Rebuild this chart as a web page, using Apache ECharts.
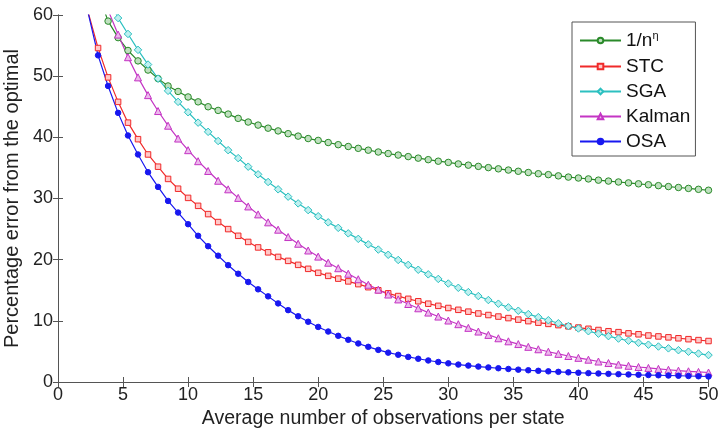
<!DOCTYPE html>
<html>
<head>
<meta charset="utf-8">
<script src="https://cdn.jsdelivr.net/npm/echarts@6/dist/echarts.min.js"></script>
<style>html,body{margin:0;padding:0;background:#fff}#c{width:720px;height:435px}</style>
</head>
<body>
<div id="c"></div>
<script>
// x positions of the sampled points (average observations per state)
var xValues = [1.54, 2.31, 3.08, 3.85, 4.62, 5.38, 6.15, 6.92, 7.69, 8.46, 9.23, 10.0, 10.77, 11.54, 12.31, 13.08,
  13.85, 14.62, 15.38, 16.15, 16.92, 17.69, 18.46, 19.23, 20.0, 20.77, 21.54, 22.31, 23.08, 23.85, 24.62, 25.38,
  26.15, 26.92, 27.69, 28.46, 29.23, 30.0, 30.77, 31.54, 32.31, 33.08, 33.85, 34.62, 35.38, 36.15, 36.92, 37.69,
  38.46, 39.23, 40.0, 40.77, 41.54, 42.31, 43.08, 43.85, 44.62, 45.38, 46.15, 46.92, 47.69, 48.46, 49.23, 50.0];

var invN = [null, null, 63.5, 59.0, 56.3, 54.2, 52.5, 51.0, 49.6, 48.4, 47.5, 46.6, 45.8, 45.0, 44.4, 43.8,
  43.1, 42.5, 42.0, 41.5, 41.05, 40.6, 40.2, 39.8, 39.5, 39.15, 38.8, 38.5, 38.2, 37.9, 37.6, 37.35,
  37.1, 36.85, 36.6, 36.35, 36.1, 35.9, 35.65, 35.45, 35.25, 35.05, 34.85, 34.65, 34.45, 34.25, 34.05, 33.9,
  33.7, 33.5, 33.35, 33.2, 33.0, 32.85, 32.7, 32.55, 32.4, 32.25, 32.1, 31.95, 31.8, 31.65, 31.5, 31.35];

var stc = [null, 60.5, 54.6, 49.8, 45.8, 42.4, 39.7, 37.2, 35.2, 33.2, 31.6, 30.1, 28.8, 27.45, 26.15, 25.0,
  23.9, 22.9, 22.0, 21.2, 20.45, 19.8, 19.15, 18.5, 17.85, 17.35, 16.9, 16.45, 16.0, 15.5, 15.0, 14.5,
  14.05, 13.6, 13.2, 12.8, 12.45, 12.1, 11.8, 11.5, 11.2, 10.95, 10.7, 10.45, 10.2, 9.95, 9.7, 9.5,
  9.3, 9.1, 8.9, 8.7, 8.5, 8.3, 8.15, 7.95, 7.8, 7.6, 7.45, 7.3, 7.15, 7.0, 6.85, 6.7];

var sga = [null, null, null, 63.0, 59.5, 56.9, 54.3, 51.9, 49.6, 47.6, 45.8, 44.1, 42.4, 40.9, 39.4, 37.9,
  36.6, 35.2, 33.95, 32.7, 31.5, 30.3, 29.2, 28.1, 27.1, 26.1, 25.2, 24.3, 23.4, 22.5, 21.65, 20.8,
  19.95, 19.15, 18.35, 17.6, 16.85, 16.1, 15.4, 14.7, 14.05, 13.4, 12.8, 12.2, 11.65, 11.1, 10.6, 10.1,
  9.6, 9.15, 8.75, 8.3, 7.9, 7.5, 7.1, 6.75, 6.4, 6.1, 5.8, 5.5, 5.2, 4.95, 4.65, 4.4];

var kalman = [null, null, 66.0, 60.8, 56.8, 53.1, 49.8, 46.9, 44.3, 41.9, 39.8, 37.9, 36.1, 34.5, 32.9, 31.5,
  30.1, 28.7, 27.4, 26.1, 24.9, 23.7, 22.6, 21.5, 20.5, 19.5, 18.6, 17.7, 16.8, 15.9, 15.1, 14.3,
  13.5, 12.75, 12.05, 11.35, 10.7, 10.05, 9.45, 8.85, 8.25, 7.7, 7.15, 6.65, 6.2, 5.75, 5.35, 4.95,
  4.6, 4.25, 3.95, 3.65, 3.35, 3.1, 2.85, 2.65, 2.45, 2.3, 2.15, 2.0, 1.85, 1.75, 1.65, 1.55];

var osa = [null, 60.4, 53.4, 48.4, 44.0, 40.3, 37.2, 34.3, 31.9, 29.6, 27.7, 25.8, 23.9, 22.2, 20.65, 19.1,
  17.7, 16.35, 15.15, 14.0, 12.85, 11.75, 10.75, 9.85, 9.0, 8.25, 7.55, 6.9, 6.3, 5.75, 5.25, 4.8,
  4.45, 4.1, 3.8, 3.52, 3.27, 3.05, 2.85, 2.68, 2.52, 2.38, 2.25, 2.13, 2.02, 1.92, 1.83, 1.74,
  1.66, 1.58, 1.51, 1.45, 1.39, 1.33, 1.28, 1.23, 1.18, 1.14, 1.1, 1.06, 1.02, 0.98, 0.94, 0.9];

var seriesNames = ['1/nη', 'STC', 'SGA', 'Kalman', 'OSA'];
var xTicks = [0, 5, 10, 15, 20, 25, 30, 35, 40, 45, 50];
var yTicks = [0, 10, 20, 30, 40, 50, 60];

function pairs(ys) {
  var out = [];
  for (var i = 0; i < xValues.length; i++) out.push([xValues[i], ys[i]]);
  return out;
}

var FONT = '"Liberation Sans", Arial, Helvetica, sans-serif';
var styles = [
  {data: invN,   line: '#2a8a2a', fill: '#bfe0bf', symbol: 'circle',   size: 6.5},
  {data: stc,    line: '#f02a2a', fill: '#ffc8c8', symbol: 'rect',     size: 5.5},
  {data: sga,    line: '#2cc0c0', fill: '#bff0f0', symbol: 'diamond',  size: 7.5},
  {data: kalman, line: '#c435c4', fill: '#ecb8ec', symbol: 'triangle', size: 7},
  {data: osa,    line: '#1818f0', fill: '#1818f0', symbol: 'circle',   size: 5.5}
];

var series = styles.map(function (s, i) {
  return {
    name: seriesNames[i],
    type: 'line',
    data: pairs(s.data),
    xAxisIndex: 0, yAxisIndex: 0,
    symbol: s.symbol,
    symbolSize: s.size,
    showAllSymbol: true,
    clip: true,
    animation: false,
    lineStyle: {color: s.line, width: 1.2},
    itemStyle: {color: s.fill, borderColor: s.line, borderWidth: 1}
  };
});

function axisBase(min, max, interval) {
  return {
    type: 'value', min: min, max: max, interval: interval,
    axisLine: {show: true, lineStyle: {color: '#555', width: 1}},
    axisTick: {show: true, inside: true, length: 5, lineStyle: {color: '#555'}},
    splitLine: {show: false}
  };
}

var xMain = axisBase(xTicks[0], xTicks[xTicks.length - 1], xTicks[1] - xTicks[0]);
xMain.position = 'bottom';
xMain.axisLabel = {fontFamily: FONT, fontSize: 18, color: '#222', margin: 4};
xMain.name = 'Average number of observations per state';
xMain.nameLocation = 'middle';
xMain.nameGap = 23;
xMain.nameTextStyle = {fontFamily: FONT, fontSize: 19.5, color: '#222'};

var xTop = axisBase(xTicks[0], xTicks[xTicks.length - 1], xTicks[1] - xTicks[0]);
xTop.position = 'top';
xTop.axisLabel = {show: false};

var yMain = axisBase(yTicks[0], yTicks[yTicks.length - 1], yTicks[1] - yTicks[0]);
yMain.position = 'left';
yMain.axisLabel = {fontFamily: FONT, fontSize: 18, color: '#222', margin: 5};
yMain.name = 'Percentage error from the optimal';
yMain.nameLocation = 'middle';
yMain.nameGap = 31;
yMain.nameTextStyle = {fontFamily: FONT, fontSize: 20, color: '#222'};

var yRight = axisBase(yTicks[0], yTicks[yTicks.length - 1], yTicks[1] - yTicks[0]);
yRight.position = 'right';
yRight.axisLabel = {show: false};

var chart = echarts.init(document.getElementById('c'), null, {renderer: 'canvas'});
chart.setOption({
  backgroundColor: '#fff',
  animation: false,
  grid: {left: 58, right: 11.5, top: 15, bottom: 53, containLabel: false, outerBoundsMode: 'none'},
  xAxis: [xMain, xTop],
  yAxis: [yMain, yRight],
  legend: {
    data: seriesNames,
    orient: 'vertical',
    left: 572, top: 22,
    padding: [8, 5, 5, 7],
    itemGap: 6,
    itemWidth: 41,
    itemHeight: 7,
    backgroundColor: '#fff',
    borderColor: '#555',
    borderWidth: 1,
    formatter: function (name) {
      if (name === '1/nη') return '{b|1/n}{s|η}';
      return '{b|' + name + '}';
    },
    textStyle: {
      fontFamily: FONT, fontSize: 19, color: '#111',
      rich: {
        b: {fontFamily: FONT, fontSize: 19, color: '#111', lineHeight: 19},
        s: {fontFamily: FONT, fontSize: 11, color: '#111', padding: [0, 0, 10, 0], lineHeight: 11}
      }
    }
  },
  series: series
});
</script>
</body>
</html>
